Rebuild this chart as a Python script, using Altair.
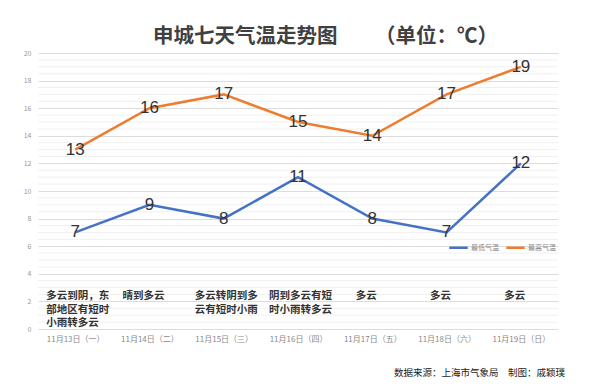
import altair as alt
import pandas as pd
import numpy as np

dates = ["11月13日（一）", "11月14日（二）", "11月15日（三）", "11月16日（四）",
         "11月17日（五）", "11月18日（六）", "11月19日（日）"]
weather = ["多云到阴，东\n部地区有短时\n小雨转多云", "晴到多云", "多云转阴到多\n云有短时小雨",
           "阴到多云有短\n时小雨转多云", "多云", "多云", "多云"]
low = [7, 9, 8, 11, 8, 7, 12]
high = [13, 16, 17, 15, 14, 17, 19]
series_names = ["最低气温", "最高气温"]
series_colors = ["#4472C4", "#ED7D31"]
major_ticks = list(range(0, 21, 2))
minor_ticks = [float(v) for v in np.arange(0, 20.01, 0.5) if v % 2 != 0]

FONT = "Noto Sans CJK SC"

rows = []
for d, l, h in zip(dates, low, high):
    rows.append({"date": d, "series": "最低气温", "temp": l})
    rows.append({"date": d, "series": "最高气温", "temp": h})
df = pd.DataFrame(rows)
wdf = pd.DataFrame({"date": dates, "weather": weather})
minor_df = pd.DataFrame({"v": minor_ticks})

yaxis = alt.Axis(values=major_ticks, labelFontSize=7, labelColor="#999999",
                 ticks=False, domain=False, gridColor="#dcdcdc", labelOverlap=False,
                 labelPadding=7, labelFont=FONT)
yscale = alt.Scale(domain=[0, 20], nice=False)
xaxis = alt.Axis(labelAngle=0, labelFontSize=8, labelColor="#888888",
                 labelFont=FONT, ticks=False, domain=False, grid=False,
                 labelPadding=6, labelOverlap=False)
xscale = alt.Scale(type="point", padding=0.5)


def X():
    return alt.X("date:N", sort=dates, title=None, scale=xscale, axis=xaxis)


def Y(field):
    return alt.Y(field, scale=yscale, title=None, axis=yaxis)


minor = alt.Chart(minor_df).mark_rule(color="#f0f0f0", strokeWidth=1).encode(
    y=Y("v:Q")
)

lines = alt.Chart(df).mark_line(strokeWidth=2.5).encode(
    x=X(),
    y=Y("temp:Q"),
    color=alt.Color("series:N", scale=alt.Scale(domain=series_names, range=series_colors),
                    legend=alt.Legend(title=None, orient="none", direction="horizontal",
                                      legendX=410, legendY=184, symbolType="stroke",
                                      symbolStrokeWidth=2.5, symbolSize=340,
                                      labelFontSize=7, labelColor="#888888",
                                      labelFont=FONT, columnPadding=2, symbolOffset=0,
                                      labelOffset=2)),
)

labels = alt.Chart(df).mark_text(fontSize=17, color="#333333", font="Liberation Sans",
                                 baseline="middle", align="center").encode(
    x=X(),
    y=Y("temp:Q"),
    text="temp:Q",
)

multi = "indexof(datum.weather, '\\n') >= 0"

wtext_multi = alt.Chart(wdf).transform_filter(multi).mark_text(
    fontSize=10.5, fontWeight="bold", color="#333333",
    font=FONT, lineBreak="\n", lineHeight=13.5,
    baseline="top", align="left", dx=-29).encode(
    x=X(),
    y=alt.value(238),
    text="weather:N",
)

wtext_single = alt.Chart(wdf).transform_filter("!(" + multi + ")").mark_text(
    fontSize=10.5, fontWeight="bold", color="#333333",
    font=FONT, baseline="top", align="center", dx=-6).encode(
    x=X(),
    y=alt.value(238),
    text="weather:N",
)

title_main = alt.Chart(pd.DataFrame({"t": ["申城七天气温走势图"]})).mark_text(
    fontSize=20.5, fontWeight="bold", color="#404040", font=FONT, align="left",
    baseline="middle").encode(x=alt.value(115), y=alt.value(-16), text="t:N")

title_unit = alt.Chart(pd.DataFrame({"t": ["（单位：℃）"]})).mark_text(
    fontSize=20.5, fontWeight="bold", color="#404040", font=FONT, align="right",
    baseline="middle").encode(x=alt.value(460), y=alt.value(-16), text="t:N")

source = alt.Chart(pd.DataFrame({"t": ["数据来源：上海市气象局\u3000制图：戚颖璞"]})).mark_text(
    fontSize=9.5, color="#222222", font=FONT, align="right",
    baseline="middle").encode(x=alt.value(527), y=alt.value(320), text="t:N")

chart = alt.layer(minor, lines, labels, wtext_multi, wtext_single,
                  title_main, title_unit, source).properties(
    width=520, height=276,
    background="white",
    autosize=alt.AutoSizeParams(type="none"),
    padding={"left": 30, "top": 45, "right": 34, "bottom": 55},
).configure_view(stroke=None).configure_axis(domain=False)

chart.save("out.html", embed_options={"renderer": "svg", "actions": False})
